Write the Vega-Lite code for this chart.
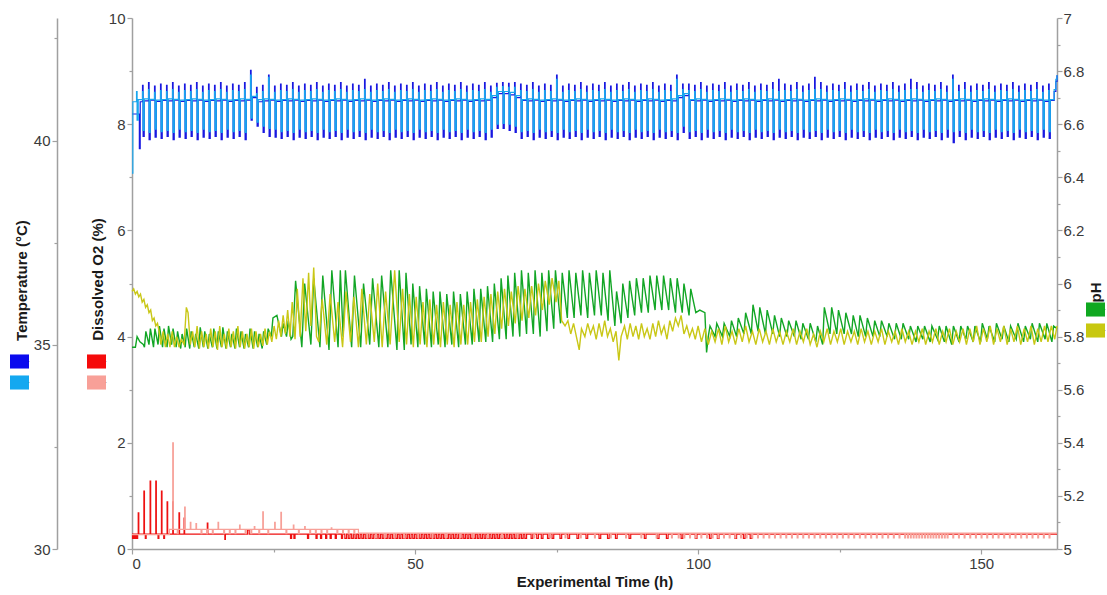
{
"$schema":"https://vega.github.io/schema/vega-lite/v6.json",
"width":925,"height":531,"autosize":"none",
"padding":{"left":132,"top":18,"right":50,"bottom":46},
"config":{"view":{"stroke":null},"font":"Liberation Sans",
"axis":{"grid":false,"domainColor":"#a0a0a0","domainWidth":1.5,"tickColor":"#a0a0a0","tickWidth":1.2,"labelColor":"#3a3a3a","labelFontSize":15,"labelFont":"Liberation Sans","titleFont":"Liberation Sans","titleFontSize":15,"titleFontWeight":"bold","titleColor":"#1a1a1a","format":"~r"},
"legend":{"orient":"none","title":null,"labelExpr":"''","labelFontSize":1,"labelOffset":0,"symbolType":"M-1,-0.74H1V0.74H-1Z","symbolSize":361,"symbolStrokeWidth":0,"padding":0,"rowPadding":4,"symbolOffset":0,"symbolOpacity":1}},
"datasets":{
"T":[
{"t":0,"a":40.65,"b":39.2},{"t":0.15,"a":40.65,"b":40.95},
{"t":0.8,"a":40.65,"b":41.2},{"t":0.9,"a":40.65,"b":40.5},{"t":1.1,"a":40.65,"b":41.0},
{"t":1.3,"a":39.8},{"t":1.45,"a":40.95},
{"t":1.86,"a":41.35,"b":41.2},{"t":1.96,"a":40.1,"b":40.25},{"t":2.16,"a":40.97,"b":41.02},
{"t":2.92,"a":41.42,"b":41.25},{"t":3.02,"a":40.02,"b":40.2},{"t":3.22,"a":40.99,"b":41.01},
{"t":3.98,"a":41.33,"b":41.18},{"t":4.08,"a":40.08,"b":40.28},{"t":4.28,"a":40.96,"b":40.99},
{"t":5.04,"a":41.38,"b":41.22},{"t":5.14,"a":40.05,"b":40.22},{"t":5.34,"a":40.98,"b":41.0},
{"t":6.1,"a":41.35,"b":41.2},{"t":6.2,"a":40.1,"b":40.25},{"t":6.4,"a":40.97,"b":41.02},
{"t":7.16,"a":41.42,"b":41.25},{"t":7.26,"a":40.02,"b":40.2},{"t":7.46,"a":40.99,"b":41.01},
{"t":8.22,"a":41.33,"b":41.18},{"t":8.32,"a":40.08,"b":40.28},{"t":8.52,"a":40.96,"b":40.99},
{"t":9.28,"a":41.38,"b":41.22},{"t":9.38,"a":40.05,"b":40.22},{"t":9.58,"a":40.98,"b":41.0},
{"t":10.34,"a":41.35,"b":41.2},{"t":10.44,"a":40.1,"b":40.25},{"t":10.64,"a":40.97,"b":41.02},
{"t":11.4,"a":41.42,"b":41.25},{"t":11.5,"a":40.02,"b":40.2},{"t":11.7,"a":40.99,"b":41.01},
{"t":12.46,"a":41.33,"b":41.18},{"t":12.56,"a":40.08,"b":40.28},{"t":12.76,"a":40.96,"b":40.99},
{"t":13.52,"a":41.38,"b":41.22},{"t":13.62,"a":40.05,"b":40.22},{"t":13.82,"a":40.98,"b":41.0},
{"t":14.58,"a":41.35,"b":41.2},{"t":14.68,"a":40.1,"b":40.25},{"t":14.88,"a":40.97,"b":41.02},
{"t":15.64,"a":41.42,"b":41.25},{"t":15.74,"a":40.02,"b":40.2},{"t":15.94,"a":40.99,"b":41.01},
{"t":16.7,"a":41.33,"b":41.18},{"t":16.8,"a":40.08,"b":40.28},{"t":17.0,"a":40.96,"b":40.99},
{"t":17.76,"a":41.38,"b":41.22},{"t":17.86,"a":40.05,"b":40.22},{"t":18.06,"a":40.98,"b":41.0},
{"t":18.82,"a":41.35,"b":41.2},{"t":18.92,"a":40.1,"b":40.25},{"t":19.12,"a":40.97,"b":41.02},
{"t":19.88,"a":41.42,"b":41.25},{"t":19.98,"a":40.02,"b":40.2},{"t":20.18,"a":40.99,"b":41.01},
{"t":20.94,"a":41.72,"b":41.6},{"t":21.04,"a":40.5,"b":40.55},{"t":21.24,"a":41.05,"b":41.08},
{"t":22.0,"a":41.3,"b":41.15},{"t":22.1,"a":40.35,"b":40.45},{"t":22.3,"a":40.95,"b":41.0},
{"t":23.06,"a":41.35,"b":41.2},{"t":23.16,"a":40.2,"b":40.35},{"t":23.36,"a":40.97,"b":41.02},
{"t":24.12,"a":41.6,"b":41.55},{"t":24.22,"a":40.1,"b":40.3},{"t":24.42,"a":40.99,"b":41.01},
{"t":25.18,"a":41.33,"b":41.18},{"t":25.28,"a":40.08,"b":40.28},{"t":25.48,"a":40.96,"b":40.99},
{"t":26.24,"a":41.38,"b":41.22},{"t":26.34,"a":40.05,"b":40.22},{"t":26.54,"a":40.98,"b":41.0},
{"t":27.3,"a":41.35,"b":41.2},{"t":27.4,"a":40.1,"b":40.25},{"t":27.6,"a":40.97,"b":41.02},
{"t":28.36,"a":41.42,"b":41.25},{"t":28.46,"a":40.02,"b":40.2},{"t":28.66,"a":40.99,"b":41.01},
{"t":29.42,"a":41.33,"b":41.18},{"t":29.52,"a":40.08,"b":40.28},{"t":29.72,"a":40.96,"b":40.99},
{"t":30.48,"a":41.38,"b":41.22},{"t":30.58,"a":40.05,"b":40.22},{"t":30.78,"a":40.98,"b":41.0},
{"t":31.54,"a":41.35,"b":41.2},{"t":31.64,"a":40.1,"b":40.25},{"t":31.84,"a":40.97,"b":41.02},
{"t":32.6,"a":41.42,"b":41.25},{"t":32.7,"a":40.02,"b":40.2},{"t":32.9,"a":40.99,"b":41.01},
{"t":33.66,"a":41.33,"b":41.18},{"t":33.76,"a":40.08,"b":40.28},{"t":33.96,"a":40.96,"b":40.99},
{"t":34.72,"a":41.38,"b":41.22},{"t":34.82,"a":40.05,"b":40.22},{"t":35.02,"a":40.98,"b":41.0},
{"t":35.78,"a":41.35,"b":41.2},{"t":35.88,"a":40.1,"b":40.25},{"t":36.08,"a":40.97,"b":41.02},
{"t":36.84,"a":41.42,"b":41.25},{"t":36.94,"a":40.02,"b":40.2},{"t":37.14,"a":40.99,"b":41.01},
{"t":37.9,"a":41.33,"b":41.18},{"t":38.0,"a":40.08,"b":40.28},{"t":38.2,"a":40.96,"b":40.99},
{"t":38.96,"a":41.38,"b":41.22},{"t":39.06,"a":40.05,"b":40.22},{"t":39.26,"a":40.98,"b":41.0},
{"t":40.02,"a":41.35,"b":41.2},{"t":40.12,"a":40.1,"b":40.25},{"t":40.32,"a":40.97,"b":41.02},
{"t":41.08,"a":41.5,"b":41.25},{"t":41.18,"a":40.02,"b":40.2},{"t":41.38,"a":40.99,"b":41.01},
{"t":42.14,"a":41.33,"b":41.18},{"t":42.24,"a":40.08,"b":40.28},{"t":42.44,"a":40.96,"b":40.99},
{"t":43.2,"a":41.38,"b":41.22},{"t":43.3,"a":40.05,"b":40.22},{"t":43.5,"a":40.98,"b":41.0},
{"t":44.26,"a":41.35,"b":41.2},{"t":44.36,"a":40.1,"b":40.25},{"t":44.56,"a":40.97,"b":41.02},
{"t":45.32,"a":41.42,"b":41.25},{"t":45.42,"a":40.02,"b":40.2},{"t":45.62,"a":40.99,"b":41.01},
{"t":46.38,"a":41.33,"b":41.18},{"t":46.48,"a":40.08,"b":40.28},{"t":46.68,"a":40.96,"b":40.99},
{"t":47.44,"a":41.38,"b":41.22},{"t":47.54,"a":40.05,"b":40.22},{"t":47.74,"a":40.98,"b":41.0},
{"t":48.5,"a":41.35,"b":41.2},{"t":48.6,"a":40.1,"b":40.25},{"t":48.8,"a":40.97,"b":41.02},
{"t":49.56,"a":41.42,"b":41.25},{"t":49.66,"a":40.02,"b":40.2},{"t":49.86,"a":40.99,"b":41.01},
{"t":50.62,"a":41.33,"b":41.18},{"t":50.72,"a":40.08,"b":40.28},{"t":50.92,"a":40.96,"b":40.99},
{"t":51.68,"a":41.38,"b":41.22},{"t":51.78,"a":40.05,"b":40.22},{"t":51.98,"a":40.98,"b":41.0},
{"t":52.74,"a":41.35,"b":41.2},{"t":52.84,"a":40.1,"b":40.25},{"t":53.04,"a":40.97,"b":41.02},
{"t":53.8,"a":41.42,"b":41.25},{"t":53.9,"a":40.02,"b":40.2},{"t":54.1,"a":40.99,"b":41.01},
{"t":54.86,"a":41.33,"b":41.18},{"t":54.96,"a":40.08,"b":40.28},{"t":55.16,"a":40.96,"b":40.99},
{"t":55.92,"a":41.38,"b":41.22},{"t":56.02,"a":40.05,"b":40.22},{"t":56.22,"a":40.98,"b":41.0},
{"t":56.98,"a":41.35,"b":41.2},{"t":57.08,"a":40.1,"b":40.25},{"t":57.28,"a":40.97,"b":41.02},
{"t":58.04,"a":41.42,"b":41.25},{"t":58.14,"a":40.02,"b":40.2},{"t":58.34,"a":40.99,"b":41.01},
{"t":59.1,"a":41.33,"b":41.18},{"t":59.2,"a":40.08,"b":40.28},{"t":59.4,"a":40.96,"b":40.99},
{"t":60.16,"a":41.38,"b":41.22},{"t":60.26,"a":40.05,"b":40.22},{"t":60.46,"a":40.98,"b":41.0},
{"t":61.22,"a":41.35,"b":41.2},{"t":61.32,"a":40.1,"b":40.25},{"t":61.52,"a":40.97,"b":41.02},
{"t":62.28,"a":41.42,"b":41.25},{"t":62.38,"a":40.02,"b":40.2},{"t":62.58,"a":40.99,"b":41.01},
{"t":63.34,"a":41.33,"b":41.18},{"t":63.44,"a":40.08,"b":40.28},{"t":63.64,"a":41.05,"b":41.1},
{"t":64.4,"a":41.4,"b":41.3},{"t":64.5,"a":40.3,"b":40.4},{"t":64.7,"a":41.15,"b":41.2},
{"t":65.46,"a":41.42,"b":41.32},{"t":65.56,"a":40.3,"b":40.42},{"t":65.76,"a":41.15,"b":41.2},
{"t":66.52,"a":41.4,"b":41.3},{"t":66.62,"a":40.25,"b":40.4},{"t":66.82,"a":41.12,"b":41.18},
{"t":67.58,"a":41.42,"b":41.3},{"t":67.68,"a":40.2,"b":40.35},{"t":67.88,"a":41.05,"b":41.1},
{"t":68.64,"a":41.38,"b":41.22},{"t":68.74,"a":40.05,"b":40.22},{"t":68.94,"a":40.98,"b":41.0},
{"t":69.7,"a":41.35,"b":41.2},{"t":69.8,"a":40.1,"b":40.25},{"t":70.0,"a":40.97,"b":41.02},
{"t":70.76,"a":41.42,"b":41.25},{"t":70.86,"a":40.02,"b":40.2},{"t":71.06,"a":40.99,"b":41.01},
{"t":71.82,"a":41.33,"b":41.18},{"t":71.92,"a":40.08,"b":40.28},{"t":72.12,"a":40.96,"b":40.99},
{"t":72.88,"a":41.38,"b":41.22},{"t":72.98,"a":40.05,"b":40.22},{"t":73.18,"a":40.98,"b":41.0},
{"t":73.94,"a":41.35,"b":41.2},{"t":74.04,"a":40.1,"b":40.25},{"t":74.24,"a":40.97,"b":41.02},
{"t":75.0,"a":41.6,"b":41.5},{"t":75.1,"a":40.02,"b":40.2},{"t":75.3,"a":40.99,"b":41.01},
{"t":76.06,"a":41.33,"b":41.18},{"t":76.16,"a":40.08,"b":40.28},{"t":76.36,"a":40.96,"b":40.99},
{"t":77.12,"a":41.38,"b":41.22},{"t":77.22,"a":40.05,"b":40.22},{"t":77.42,"a":40.98,"b":41.0},
{"t":78.18,"a":41.35,"b":41.2},{"t":78.28,"a":40.1,"b":40.25},{"t":78.48,"a":40.97,"b":41.02},
{"t":79.24,"a":41.42,"b":41.25},{"t":79.34,"a":40.02,"b":40.2},{"t":79.54,"a":40.99,"b":41.01},
{"t":80.3,"a":41.33,"b":41.18},{"t":80.4,"a":40.08,"b":40.28},{"t":80.6,"a":40.96,"b":40.99},
{"t":81.36,"a":41.38,"b":41.22},{"t":81.46,"a":40.05,"b":40.22},{"t":81.66,"a":40.98,"b":41.0},
{"t":82.42,"a":41.35,"b":41.2},{"t":82.52,"a":40.1,"b":40.25},{"t":82.72,"a":40.97,"b":41.02},
{"t":83.48,"a":41.42,"b":41.25},{"t":83.58,"a":40.02,"b":40.2},{"t":83.78,"a":40.99,"b":41.01},
{"t":84.54,"a":41.33,"b":41.18},{"t":84.64,"a":40.08,"b":40.28},{"t":84.84,"a":40.96,"b":40.99},
{"t":85.6,"a":41.38,"b":41.22},{"t":85.7,"a":40.05,"b":40.22},{"t":85.9,"a":40.98,"b":41.0},
{"t":86.66,"a":41.35,"b":41.2},{"t":86.76,"a":40.1,"b":40.25},{"t":86.96,"a":40.97,"b":41.02},
{"t":87.72,"a":41.42,"b":41.25},{"t":87.82,"a":40.02,"b":40.2},{"t":88.02,"a":40.99,"b":41.01},
{"t":88.78,"a":41.33,"b":41.18},{"t":88.88,"a":40.08,"b":40.28},{"t":89.08,"a":40.96,"b":40.99},
{"t":89.84,"a":41.38,"b":41.22},{"t":89.94,"a":40.05,"b":40.22},{"t":90.14,"a":40.98,"b":41.0},
{"t":90.9,"a":41.35,"b":41.2},{"t":91.0,"a":40.1,"b":40.25},{"t":91.2,"a":40.97,"b":41.02},
{"t":91.96,"a":41.42,"b":41.25},{"t":92.06,"a":40.02,"b":40.2},{"t":92.26,"a":40.99,"b":41.01},
{"t":93.02,"a":41.33,"b":41.18},{"t":93.12,"a":40.08,"b":40.28},{"t":93.32,"a":40.96,"b":40.99},
{"t":94.08,"a":41.38,"b":41.22},{"t":94.18,"a":40.05,"b":40.22},{"t":94.38,"a":40.98,"b":41.0},
{"t":95.14,"a":41.35,"b":41.2},{"t":95.24,"a":40.1,"b":40.25},{"t":95.44,"a":40.97,"b":41.02},
{"t":96.2,"a":41.6,"b":41.5},{"t":96.3,"a":40.02,"b":40.2},{"t":96.5,"a":41.05,"b":41.1},
{"t":97.26,"a":41.38,"b":41.25},{"t":97.36,"a":40.2,"b":40.35},{"t":97.56,"a":41.1,"b":41.15},
{"t":98.32,"a":41.38,"b":41.22},{"t":98.42,"a":40.05,"b":40.22},{"t":98.62,"a":40.98,"b":41.0},
{"t":99.38,"a":41.35,"b":41.2},{"t":99.48,"a":40.1,"b":40.25},{"t":99.68,"a":40.97,"b":41.02},
{"t":100.44,"a":41.42,"b":41.25},{"t":100.54,"a":40.02,"b":40.2},{"t":100.74,"a":40.99,"b":41.01},
{"t":101.5,"a":41.33,"b":41.18},{"t":101.6,"a":40.08,"b":40.28},{"t":101.8,"a":40.96,"b":40.99},
{"t":102.56,"a":41.38,"b":41.22},{"t":102.66,"a":40.05,"b":40.22},{"t":102.86,"a":40.98,"b":41.0},
{"t":103.62,"a":41.35,"b":41.2},{"t":103.72,"a":40.1,"b":40.25},{"t":103.92,"a":40.97,"b":41.02},
{"t":104.68,"a":41.42,"b":41.25},{"t":104.78,"a":40.02,"b":40.2},{"t":104.98,"a":40.99,"b":41.01},
{"t":105.74,"a":41.33,"b":41.18},{"t":105.84,"a":40.08,"b":40.28},{"t":106.04,"a":40.96,"b":40.99},
{"t":106.8,"a":41.38,"b":41.22},{"t":106.9,"a":40.05,"b":40.22},{"t":107.1,"a":40.98,"b":41.0},
{"t":107.86,"a":41.35,"b":41.2},{"t":107.96,"a":40.1,"b":40.25},{"t":108.16,"a":40.97,"b":41.02},
{"t":108.92,"a":41.42,"b":41.25},{"t":109.02,"a":40.02,"b":40.2},{"t":109.22,"a":40.99,"b":41.01},
{"t":109.98,"a":41.33,"b":41.18},{"t":110.08,"a":40.08,"b":40.28},{"t":110.28,"a":40.96,"b":40.99},
{"t":111.04,"a":41.38,"b":41.22},{"t":111.14,"a":40.05,"b":40.22},{"t":111.34,"a":40.98,"b":41.0},
{"t":112.1,"a":41.35,"b":41.2},{"t":112.2,"a":40.1,"b":40.25},{"t":112.4,"a":40.97,"b":41.02},
{"t":113.16,"a":41.42,"b":41.25},{"t":113.26,"a":40.02,"b":40.2},{"t":113.46,"a":40.99,"b":41.01},
{"t":114.22,"a":41.5,"b":41.2},{"t":114.32,"a":40.08,"b":40.28},{"t":114.52,"a":40.96,"b":40.99},
{"t":115.28,"a":41.38,"b":41.22},{"t":115.38,"a":40.05,"b":40.22},{"t":115.58,"a":40.98,"b":41.0},
{"t":116.34,"a":41.35,"b":41.2},{"t":116.44,"a":40.1,"b":40.25},{"t":116.64,"a":40.97,"b":41.02},
{"t":117.4,"a":41.42,"b":41.25},{"t":117.5,"a":40.02,"b":40.2},{"t":117.7,"a":40.99,"b":41.01},
{"t":118.46,"a":41.33,"b":41.18},{"t":118.56,"a":40.08,"b":40.28},{"t":118.76,"a":40.96,"b":40.99},
{"t":119.52,"a":41.38,"b":41.22},{"t":119.62,"a":40.05,"b":40.22},{"t":119.82,"a":40.98,"b":41.0},
{"t":120.58,"a":41.55,"b":41.25},{"t":120.68,"a":40.1,"b":40.25},{"t":120.88,"a":40.97,"b":41.02},
{"t":121.64,"a":41.42,"b":41.25},{"t":121.74,"a":40.02,"b":40.2},{"t":121.94,"a":40.99,"b":41.01},
{"t":122.7,"a":41.33,"b":41.18},{"t":122.8,"a":40.08,"b":40.28},{"t":123.0,"a":40.96,"b":40.99},
{"t":123.76,"a":41.38,"b":41.22},{"t":123.86,"a":40.05,"b":40.22},{"t":124.06,"a":40.98,"b":41.0},
{"t":124.82,"a":41.35,"b":41.2},{"t":124.92,"a":40.1,"b":40.25},{"t":125.12,"a":40.97,"b":41.02},
{"t":125.88,"a":41.42,"b":41.25},{"t":125.98,"a":40.02,"b":40.2},{"t":126.18,"a":40.99,"b":41.01},
{"t":126.94,"a":41.33,"b":41.18},{"t":127.04,"a":40.08,"b":40.28},{"t":127.24,"a":40.96,"b":40.99},
{"t":128.0,"a":41.38,"b":41.22},{"t":128.1,"a":40.05,"b":40.22},{"t":128.3,"a":40.98,"b":41.0},
{"t":129.06,"a":41.35,"b":41.2},{"t":129.16,"a":40.1,"b":40.25},{"t":129.36,"a":40.97,"b":41.02},
{"t":130.12,"a":41.42,"b":41.25},{"t":130.22,"a":40.02,"b":40.2},{"t":130.42,"a":40.99,"b":41.01},
{"t":131.18,"a":41.33,"b":41.18},{"t":131.28,"a":40.08,"b":40.28},{"t":131.48,"a":40.96,"b":40.99},
{"t":132.24,"a":41.38,"b":41.22},{"t":132.34,"a":40.05,"b":40.22},{"t":132.54,"a":40.98,"b":41.0},
{"t":133.3,"a":41.35,"b":41.2},{"t":133.4,"a":40.1,"b":40.25},{"t":133.6,"a":40.97,"b":41.02},
{"t":134.36,"a":41.42,"b":41.25},{"t":134.46,"a":40.02,"b":40.2},{"t":134.66,"a":40.99,"b":41.01},
{"t":135.42,"a":41.33,"b":41.18},{"t":135.52,"a":40.08,"b":40.28},{"t":135.72,"a":40.96,"b":40.99},
{"t":136.48,"a":41.38,"b":41.22},{"t":136.58,"a":40.05,"b":40.22},{"t":136.78,"a":40.98,"b":41.0},
{"t":137.54,"a":41.5,"b":41.25},{"t":137.64,"a":40.1,"b":40.25},{"t":137.84,"a":40.97,"b":41.02},
{"t":138.6,"a":41.42,"b":41.25},{"t":138.7,"a":40.02,"b":40.2},{"t":138.9,"a":40.99,"b":41.01},
{"t":139.66,"a":41.33,"b":41.18},{"t":139.76,"a":40.08,"b":40.28},{"t":139.96,"a":40.96,"b":40.99},
{"t":140.72,"a":41.38,"b":41.22},{"t":140.82,"a":40.05,"b":40.22},{"t":141.02,"a":40.98,"b":41.0},
{"t":141.78,"a":41.35,"b":41.2},{"t":141.88,"a":40.1,"b":40.25},{"t":142.08,"a":40.97,"b":41.02},
{"t":142.84,"a":41.42,"b":41.25},{"t":142.94,"a":40.02,"b":40.2},{"t":143.14,"a":40.99,"b":41.01},
{"t":143.9,"a":41.33,"b":41.18},{"t":144.0,"a":40.08,"b":40.28},{"t":144.2,"a":40.96,"b":40.99},
{"t":144.96,"a":41.6,"b":41.5},{"t":145.06,"a":39.95,"b":40.22},{"t":145.26,"a":40.98,"b":41.0},
{"t":146.02,"a":41.35,"b":41.2},{"t":146.12,"a":40.1,"b":40.25},{"t":146.32,"a":40.97,"b":41.02},
{"t":147.08,"a":41.42,"b":41.25},{"t":147.18,"a":40.02,"b":40.2},{"t":147.38,"a":40.99,"b":41.01},
{"t":148.14,"a":41.33,"b":41.18},{"t":148.24,"a":40.08,"b":40.28},{"t":148.44,"a":40.96,"b":40.99},
{"t":149.2,"a":41.38,"b":41.22},{"t":149.3,"a":40.05,"b":40.22},{"t":149.5,"a":40.98,"b":41.0},
{"t":150.26,"a":41.35,"b":41.2},{"t":150.36,"a":40.1,"b":40.25},{"t":150.56,"a":40.97,"b":41.02},
{"t":151.32,"a":41.42,"b":41.25},{"t":151.42,"a":40.02,"b":40.2},{"t":151.62,"a":40.99,"b":41.01},
{"t":152.38,"a":41.33,"b":41.18},{"t":152.48,"a":40.08,"b":40.28},{"t":152.68,"a":40.96,"b":40.99},
{"t":153.44,"a":41.38,"b":41.22},{"t":153.54,"a":40.05,"b":40.22},{"t":153.74,"a":40.98,"b":41.0},
{"t":154.5,"a":41.35,"b":41.2},{"t":154.6,"a":40.1,"b":40.25},{"t":154.8,"a":40.97,"b":41.02},
{"t":155.56,"a":41.42,"b":41.25},{"t":155.66,"a":40.02,"b":40.2},{"t":155.86,"a":40.99,"b":41.01},
{"t":156.62,"a":41.33,"b":41.18},{"t":156.72,"a":40.08,"b":40.28},{"t":156.92,"a":40.96,"b":40.99},
{"t":157.68,"a":41.38,"b":41.22},{"t":157.78,"a":40.05,"b":40.22},{"t":157.98,"a":40.98,"b":41.0},
{"t":158.74,"a":41.35,"b":41.2},{"t":158.84,"a":40.1,"b":40.25},{"t":159.04,"a":40.97,"b":41.02},
{"t":159.8,"a":41.42,"b":41.25},{"t":159.9,"a":40.02,"b":40.2},{"t":160.1,"a":40.99,"b":41.01},
{"t":160.86,"a":41.33,"b":41.18},{"t":160.96,"a":40.08,"b":40.28},{"t":161.16,"a":40.96,"b":40.99},
{"t":161.92,"a":41.38,"b":41.22},{"t":162.02,"a":40.05,"b":40.22},{"t":162.22,"a":40.98,"b":41.0},
{"t":162.9,"a":41.2,"b":41.25},{"t":163.2,"a":41.45,"b":41.5},{"t":163.4,"a":41.6,"b":41.6}
],
"P":[
{"t":0,"a":5.76},{"t":0.6,"a":5.76},{"t":0.9,"a":5.8},{"t":1.4,"a":5.78},{"t":2.0,"a":5.77},
{"t":2.2,"a":5.76},{"t":2.45,"a":5.82},{"t":3.0,"a":5.77},{"t":3.25,"a":5.83},{"t":3.8,"a":5.76},{"t":4.05,"a":5.83},{"t":4.6,"a":5.77},{"t":4.85,"a":5.84},{"t":5.4,"a":5.76},{"t":5.65,"a":5.83},{"t":6.2,"a":5.76},{"t":6.45,"a":5.84},{"t":7.0,"a":5.77},{"t":7.25,"a":5.83},{"t":7.8,"a":5.76},{"t":8.05,"a":5.82},
{"t":8.6,"a":5.755},{"t":8.85,"a":5.81},{"t":9.4,"a":5.76},{"t":9.65,"a":5.83},{"t":10.2,"a":5.755},{"t":10.45,"a":5.82},{"t":11.0,"a":5.76},{"t":11.25,"a":5.81},{"t":11.8,"a":5.755},{"t":12.05,"a":5.835},{"t":12.6,"a":5.76},{"t":12.85,"a":5.82},{"t":13.4,"a":5.755},{"t":13.65,"a":5.81},{"t":14.2,"a":5.76},{"t":14.45,"a":5.83},{"t":15.0,"a":5.755},{"t":15.25,"a":5.82},{"t":15.8,"a":5.76},{"t":16.05,"a":5.835},{"t":16.6,"a":5.755},{"t":16.85,"a":5.82},{"t":17.4,"a":5.76},{"t":17.65,"a":5.81},{"t":18.2,"a":5.755},{"t":18.45,"a":5.83},{"t":19.0,"a":5.76},{"t":19.25,"a":5.82},{"t":19.8,"a":5.755},{"t":20.05,"a":5.81},{"t":20.6,"a":5.76},{"t":20.85,"a":5.83},{"t":21.4,"a":5.755},{"t":21.65,"a":5.82},{"t":22.2,"a":5.76},{"t":22.45,"a":5.81},{"t":23.0,"a":5.755},{"t":23.25,"a":5.82},{"t":23.8,"a":5.77},{"t":24.05,"a":5.83},
{"t":24.6,"a":5.8},{"t":24.9,"a":5.87},{"t":25.6,"a":5.88},{"t":26.0,"a":5.84},{"t":26.4,"a":5.8},{"t":26.7,"a":5.85},{"t":27.3,"a":5.8},{"t":27.6,"a":5.86},{"t":28.1,"a":5.79},
{"t":28.4,"a":5.8},{"t":28.9,"a":6.01},{"t":30.0,"a":5.76},{"t":30.5,"a":6.0},{"t":31.6,"a":5.77},{"t":32.1,"a":6.02},{"t":33.2,"a":5.76},{"t":33.7,"a":6.03},{"t":34.8,"a":5.75},{"t":35.3,"a":6.05},{"t":36.4,"a":5.76},{"t":36.8,"a":6.05},{"t":37.3,"a":5.8},{"t":37.7,"a":6.05},{"t":38.8,"a":5.76},{"t":39.3,"a":6.03},{"t":40.4,"a":5.76},{"t":40.9,"a":6.0},{"t":42.0,"a":5.77},{"t":42.5,"a":6.02},{"t":43.6,"a":5.76},{"t":44.1,"a":6.03},{"t":45.2,"a":5.76},{"t":45.7,"a":6.05},{"t":46.8,"a":5.75},{"t":47.2,"a":6.05},
{"t":48.1,"a":5.75},{"t":48.4,"a":6.04},{"t":49.3,"a":5.77},{"t":49.6,"a":6.0},{"t":50.5,"a":5.76},{"t":50.8,"a":5.99},{"t":51.7,"a":5.77},{"t":52.0,"a":5.98},{"t":52.9,"a":5.76},{"t":53.2,"a":5.97},{"t":54.1,"a":5.77},{"t":54.4,"a":5.97},{"t":55.3,"a":5.76},{"t":55.6,"a":5.96},{"t":56.5,"a":5.77},{"t":56.8,"a":5.97},{"t":57.7,"a":5.76},{"t":58.0,"a":5.96},{"t":58.9,"a":5.77},{"t":59.2,"a":5.97},{"t":60.1,"a":5.77},{"t":60.4,"a":5.98},{"t":61.3,"a":5.78},{"t":61.6,"a":5.98},
{"t":62.5,"a":5.78},{"t":62.8,"a":5.99},{"t":63.7,"a":5.78},{"t":64.0,"a":6.0},{"t":64.9,"a":5.79},{"t":65.2,"a":6.02},{"t":66.1,"a":5.79},{"t":66.4,"a":6.03},{"t":67.3,"a":5.8},{"t":67.6,"a":6.04},
{"t":68.5,"a":5.8},{"t":68.8,"a":6.05},{"t":69.7,"a":5.81},{"t":70.0,"a":6.04},{"t":70.9,"a":5.81},{"t":71.2,"a":6.05},{"t":72.1,"a":5.8},{"t":72.4,"a":6.04},{"t":73.3,"a":5.82},{"t":73.6,"a":6.05},{"t":74.5,"a":5.83},{"t":74.8,"a":6.05},
{"t":75.7,"a":5.85},{"t":76.0,"a":6.04},{"t":76.9,"a":5.87},{"t":77.2,"a":6.05},{"t":78.1,"a":5.87},{"t":78.4,"a":6.04},{"t":79.3,"a":5.88},{"t":79.6,"a":6.05},{"t":80.5,"a":5.87},{"t":80.8,"a":6.04},{"t":81.7,"a":5.88},{"t":82.0,"a":6.05},{"t":82.9,"a":5.88},{"t":83.2,"a":6.04},{"t":84.1,"a":5.86},{"t":84.4,"a":6.05},
{"t":85.3,"a":5.84},{"t":85.6,"a":5.97},{"t":86.4,"a":5.85},{"t":86.7,"a":6.0},
{"t":87.6,"a":5.87},{"t":87.9,"a":6.01},{"t":88.8,"a":5.88},{"t":89.1,"a":6.02},{"t":90.0,"a":5.89},{"t":90.3,"a":6.02},{"t":91.2,"a":5.89},{"t":91.5,"a":6.03},{"t":92.4,"a":5.9},{"t":92.7,"a":6.03},{"t":93.6,"a":5.9},{"t":93.9,"a":6.03},{"t":94.8,"a":5.9},{"t":95.1,"a":6.02},{"t":96.0,"a":5.89},{"t":96.3,"a":6.02},{"t":97.2,"a":5.89},{"t":97.5,"a":6.0},{"t":98.4,"a":5.88},{"t":98.7,"a":5.98},
{"t":99.6,"a":5.89},{"t":100.3,"a":5.9},{"t":101.2,"a":5.89},{"t":101.5,"a":5.74},{"t":101.8,"a":5.8},{"t":102.1,"a":5.84},
{"t":103.0,"a":5.8},{"t":103.3,"a":5.85},{"t":104.3,"a":5.8},{"t":104.6,"a":5.85},{"t":105.6,"a":5.8},{"t":105.9,"a":5.86},{"t":106.8,"a":5.8},{"t":107.1,"a":5.87},{"t":108.1,"a":5.81},{"t":108.4,"a":5.89},{"t":109.4,"a":5.81},{"t":109.7,"a":5.92},{"t":110.6,"a":5.82},{"t":110.9,"a":5.91},{"t":111.9,"a":5.81},{"t":112.2,"a":5.9},{"t":113.2,"a":5.81},{"t":113.5,"a":5.88},{"t":114.4,"a":5.8},{"t":114.7,"a":5.87},{"t":115.7,"a":5.8},{"t":116.0,"a":5.86},{"t":117.0,"a":5.8},{"t":117.3,"a":5.86},{"t":118.2,"a":5.79},{"t":118.5,"a":5.85},{"t":119.5,"a":5.79},{"t":119.8,"a":5.85},{"t":120.8,"a":5.78},{"t":121.1,"a":5.84},{"t":122.0,"a":5.77},{"t":122.3,"a":5.91},{"t":123.3,"a":5.81},{"t":123.6,"a":5.91},{"t":124.5,"a":5.81},{"t":124.8,"a":5.9},{"t":125.8,"a":5.81},{"t":126.1,"a":5.89},{"t":127.1,"a":5.81},{"t":127.4,"a":5.88},{"t":128.3,"a":5.8},{"t":128.6,"a":5.88},{"t":129.6,"a":5.8},{"t":129.9,"a":5.87},{"t":130.9,"a":5.8},{"t":131.2,"a":5.86},{"t":132.1,"a":5.8},{"t":132.4,"a":5.86},{"t":133.4,"a":5.8},{"t":133.7,"a":5.85},{"t":134.7,"a":5.79},{"t":135.0,"a":5.85},{"t":135.9,"a":5.79},{"t":136.2,"a":5.85},{"t":137.2,"a":5.79},{"t":137.5,"a":5.84},{"t":138.5,"a":5.78},{"t":138.8,"a":5.84},{"t":139.7,"a":5.79},{"t":140.0,"a":5.84},{"t":141.0,"a":5.78},{"t":141.3,"a":5.84},{"t":142.3,"a":5.79},{"t":142.6,"a":5.84},{"t":143.5,"a":5.78},{"t":143.8,"a":5.84},{"t":144.8,"a":5.77},{"t":145.1,"a":5.84},{"t":146.1,"a":5.78},{"t":146.4,"a":5.84},{"t":147.3,"a":5.79},{"t":147.6,"a":5.84},{"t":148.6,"a":5.78},{"t":148.9,"a":5.84},{"t":149.9,"a":5.78},{"t":150.2,"a":5.85},{"t":151.1,"a":5.79},{"t":151.4,"a":5.84},{"t":152.4,"a":5.78},{"t":152.7,"a":5.85},{"t":153.7,"a":5.79},{"t":154.0,"a":5.84},{"t":154.9,"a":5.78},{"t":155.2,"a":5.84},{"t":156.2,"a":5.79},{"t":156.5,"a":5.85},{"t":157.5,"a":5.78},{"t":157.8,"a":5.84},{"t":158.7,"a":5.79},{"t":159.0,"a":5.85},{"t":160.0,"a":5.78},{"t":160.3,"a":5.85},{"t":161.3,"a":5.79},{"t":161.6,"a":5.85},{"t":162.5,"a":5.78},{"t":162.8,"a":5.84},{"t":163.4,"a":5.83},
{"t":0,"b":5.97},{"t":0.3,"b":5.98},{"t":0.6,"b":5.96},{"t":0.9,"b":5.97},{"t":1.2,"b":5.95},{"t":1.5,"b":5.96},{"t":1.8,"b":5.93},{"t":2.1,"b":5.94},{"t":2.4,"b":5.91},{"t":2.7,"b":5.92},{"t":3.0,"b":5.89},{"t":3.3,"b":5.9},{"t":3.6,"b":5.86},{"t":3.9,"b":5.87},{"t":4.2,"b":5.84},{"t":4.5,"b":5.85},{"t":4.8,"b":5.82},
{"t":5.1,"b":5.77},{"t":5.5,"b":5.82},{"t":5.9,"b":5.76},{"t":6.3,"b":5.81},{"t":6.7,"b":5.76},{"t":7.1,"b":5.82},{"t":7.5,"b":5.76},{"t":7.9,"b":5.8},{"t":8.3,"b":5.76},{"t":8.7,"b":5.79},{"t":9.2,"b":5.77},{"t":9.6,"b":5.91},{"t":9.9,"b":5.89},{"t":10.3,"b":5.77},
{"t":10.7,"b":5.82},{"t":11.1,"b":5.76},{"t":11.5,"b":5.84},{"t":11.9,"b":5.755},{"t":12.3,"b":5.82},{"t":12.7,"b":5.76},{"t":13.1,"b":5.81},{"t":13.5,"b":5.755},{"t":13.9,"b":5.83},{"t":14.3,"b":5.76},{"t":14.7,"b":5.82},{"t":15.1,"b":5.75},{"t":15.5,"b":5.84},{"t":15.9,"b":5.76},{"t":16.3,"b":5.81},{"t":16.7,"b":5.755},{"t":17.1,"b":5.83},{"t":17.5,"b":5.76},{"t":17.9,"b":5.82},{"t":18.3,"b":5.755},{"t":18.7,"b":5.84},{"t":19.1,"b":5.76},{"t":19.5,"b":5.82},{"t":19.9,"b":5.755},{"t":20.3,"b":5.81},{"t":20.7,"b":5.76},{"t":21.1,"b":5.83},{"t":21.5,"b":5.755},{"t":21.9,"b":5.82},{"t":22.3,"b":5.76},{"t":22.7,"b":5.81},{"t":23.1,"b":5.765},{"t":23.5,"b":5.83},{"t":23.9,"b":5.77},{"t":24.3,"b":5.82},{"t":24.7,"b":5.78},{"t":25.1,"b":5.84},{"t":25.5,"b":5.79},{"t":25.9,"b":5.86},{"t":26.3,"b":5.8},{"t":26.7,"b":5.88},{"t":27.1,"b":5.81},{"t":27.5,"b":5.9},{"t":27.9,"b":5.8},{"t":28.3,"b":5.93},{"t":28.8,"b":5.79},
{"t":29.2,"b":5.98},{"t":29.7,"b":5.8},{"t":30.2,"b":6.02},{"t":30.7,"b":5.82},{"t":31.2,"b":6.04},{"t":31.6,"b":5.84},{"t":32.1,"b":6.06},{"t":32.6,"b":5.8},{"t":33.0,"b":5.78},
{"t":33.6,"b":5.94},{"t":34.4,"b":5.77},{"t":35.0,"b":5.96},{"t":35.8,"b":5.78},{"t":36.4,"b":5.93},{"t":37.2,"b":5.76},{"t":37.8,"b":5.97},{"t":38.6,"b":5.78},{"t":39.2,"b":5.95},{"t":40.0,"b":5.76},{"t":40.6,"b":5.98},{"t":41.4,"b":5.77},{"t":42.0,"b":5.96},{"t":42.8,"b":5.78},{"t":43.4,"b":6.0},{"t":44.2,"b":5.76},{"t":44.8,"b":5.97},{"t":45.6,"b":5.77},{"t":46.4,"b":6.05},{"t":47.2,"b":5.78},
{"t":47.8,"b":5.98},{"t":48.5,"b":5.77},{"t":49.0,"b":5.96},{"t":49.7,"b":5.76},{"t":50.2,"b":5.95},{"t":50.9,"b":5.77},{"t":51.4,"b":5.93},{"t":52.1,"b":5.76},{"t":52.6,"b":5.94},{"t":53.3,"b":5.77},{"t":53.8,"b":5.92},{"t":54.5,"b":5.76},{"t":55.0,"b":5.93},{"t":55.7,"b":5.77},{"t":56.2,"b":5.92},{"t":56.9,"b":5.76},{"t":57.4,"b":5.93},{"t":58.1,"b":5.77},{"t":58.6,"b":5.92},{"t":59.3,"b":5.77},{"t":59.8,"b":5.93},{"t":60.5,"b":5.78},{"t":61.0,"b":5.94},{"t":61.7,"b":5.78},
{"t":62.2,"b":5.95},{"t":62.9,"b":5.8},{"t":63.4,"b":5.96},{"t":64.1,"b":5.81},{"t":64.6,"b":5.97},{"t":65.3,"b":5.83},{"t":65.8,"b":5.98},{"t":66.5,"b":5.84},{"t":67.0,"b":5.97},{"t":67.7,"b":5.85},{"t":68.2,"b":5.99},{"t":68.9,"b":5.86},{"t":69.4,"b":5.98},{"t":70.1,"b":5.87},{"t":70.6,"b":5.99},{"t":71.3,"b":5.88},{"t":71.8,"b":6.0},{"t":72.5,"b":5.9},{"t":73.0,"b":6.01},{"t":73.7,"b":5.92},{"t":74.2,"b":6.02},{"t":74.9,"b":5.93},{"t":75.4,"b":6.01},{"t":75.9,"b":5.86},
{"t":76.5,"b":5.84},{"t":77.0,"b":5.86},{"t":77.5,"b":5.81},{"t":78.0,"b":5.85},{"t":78.5,"b":5.8},{"t":79.0,"b":5.75},{"t":79.4,"b":5.83},{"t":80.0,"b":5.8},{"t":80.5,"b":5.85},{"t":81.0,"b":5.81},{"t":81.5,"b":5.84},{"t":82.0,"b":5.79},{"t":82.5,"b":5.85},{"t":83.0,"b":5.8},{"t":83.5,"b":5.86},{"t":84.0,"b":5.8},{"t":84.5,"b":5.83},{"t":85.0,"b":5.78},{"t":85.5,"b":5.82},{"t":86.0,"b":5.71},{"t":86.4,"b":5.8},{"t":87.0,"b":5.84},{"t":87.5,"b":5.79},{"t":88.0,"b":5.85},{"t":88.5,"b":5.8},{"t":89.0,"b":5.84},{"t":89.5,"b":5.79},{"t":90.0,"b":5.85},{"t":90.5,"b":5.8},{"t":91.0,"b":5.83},{"t":91.5,"b":5.79},{"t":92.0,"b":5.85},{"t":92.5,"b":5.8},{"t":93.0,"b":5.86},{"t":93.5,"b":5.81},{"t":94.0,"b":5.84},{"t":94.5,"b":5.79},{"t":95.0,"b":5.86},{"t":95.5,"b":5.82},{"t":96.0,"b":5.87},{"t":96.5,"b":5.84},{"t":97.0,"b":5.88},{"t":97.5,"b":5.81},{"t":98.0,"b":5.84},{"t":98.5,"b":5.8},{"t":99.0,"b":5.83},{"t":99.5,"b":5.79},{"t":100.0,"b":5.84},
{"t":100.6,"b":5.78},{"t":101.2,"b":5.83},{"t":101.8,"b":5.77},{"t":102.4,"b":5.82},{"t":103.0,"b":5.78},{"t":103.6,"b":5.83},{"t":104.2,"b":5.77},{"t":104.8,"b":5.84},{"t":105.4,"b":5.78},{"t":106.0,"b":5.82},{"t":106.6,"b":5.77},{"t":107.2,"b":5.83},{"t":107.8,"b":5.78},{"t":108.4,"b":5.84},{"t":109.0,"b":5.78},{"t":109.6,"b":5.82},{"t":110.2,"b":5.77},{"t":110.8,"b":5.83},{"t":111.4,"b":5.78},{"t":112.0,"b":5.82},{"t":112.6,"b":5.77},{"t":113.2,"b":5.83},{"t":113.8,"b":5.78},{"t":114.4,"b":5.82},{"t":115.0,"b":5.77},{"t":115.6,"b":5.82},{"t":116.2,"b":5.78},{"t":116.8,"b":5.83},{"t":117.4,"b":5.77},{"t":118.0,"b":5.82},{"t":118.6,"b":5.78},{"t":119.2,"b":5.83},{"t":119.8,"b":5.77},{"t":120.4,"b":5.81},{"t":121.0,"b":5.76},{"t":121.6,"b":5.82},{"t":122.2,"b":5.78},{"t":122.8,"b":5.83},{"t":123.4,"b":5.77},{"t":124.0,"b":5.82},{"t":124.6,"b":5.78},{"t":125.2,"b":5.83},{"t":125.8,"b":5.77},{"t":126.4,"b":5.82},{"t":127.0,"b":5.78},{"t":127.6,"b":5.82},{"t":128.2,"b":5.77},{"t":128.8,"b":5.83},{"t":129.4,"b":5.78},{"t":130.0,"b":5.82},{"t":130.6,"b":5.77},{"t":131.2,"b":5.82},{"t":131.8,"b":5.78},{"t":132.4,"b":5.83},{"t":133.0,"b":5.77},{"t":133.6,"b":5.82},{"t":134.2,"b":5.78},{"t":134.8,"b":5.82},{"t":135.4,"b":5.77},{"t":136.0,"b":5.83},{"t":136.6,"b":5.78},{"t":137.2,"b":5.82},{"t":137.8,"b":5.77},{"t":138.4,"b":5.82},{"t":139.0,"b":5.78},{"t":139.6,"b":5.83},{"t":140.2,"b":5.77},{"t":140.8,"b":5.82},{"t":141.4,"b":5.78},{"t":142.0,"b":5.83},{"t":142.6,"b":5.77},{"t":143.2,"b":5.82},{"t":143.8,"b":5.78},{"t":144.4,"b":5.83},{"t":145.0,"b":5.77},{"t":145.6,"b":5.82},{"t":146.2,"b":5.78},{"t":146.8,"b":5.83},{"t":147.4,"b":5.77},{"t":148.0,"b":5.83},{"t":148.6,"b":5.78},{"t":149.2,"b":5.84},{"t":149.8,"b":5.77},{"t":150.4,"b":5.83},{"t":151.0,"b":5.78},{"t":151.6,"b":5.84},{"t":152.2,"b":5.77},{"t":152.8,"b":5.83},{"t":153.4,"b":5.78},{"t":154.0,"b":5.84},{"t":154.6,"b":5.77},{"t":155.2,"b":5.83},{"t":155.8,"b":5.78},{"t":156.4,"b":5.84},{"t":157.0,"b":5.77},{"t":157.6,"b":5.83},{"t":158.2,"b":5.78},{"t":158.8,"b":5.84},{"t":159.4,"b":5.77},{"t":160.0,"b":5.83},{"t":160.6,"b":5.78},{"t":161.2,"b":5.84},{"t":161.8,"b":5.78},{"t":162.4,"b":5.84},{"t":163.0,"b":5.79},{"t":163.4,"b":5.84}
],
"D":[
{"t":0,"a":0.28},{"t":0.1,"a":0.2},{"t":0.3,"a":0.28},{"t":0.5,"a":0.2},{"t":0.7,"a":0.28},{"t":0.85,"a":0.2},{"t":1.0,"a":0.28},{"t":1.1,"a":0.68},{"t":1.2,"a":0.28},{"t":2.1,"a":1.09},{"t":2.2,"a":0.28},{"t":2.35,"a":0.2},{"t":2.5,"a":0.28},{"t":3.2,"a":1.28},{"t":3.3,"a":0.28},{"t":4.2,"a":1.28},{"t":4.3,"a":0.28},{"t":4.6,"a":0.2},{"t":4.75,"a":0.28},{"t":5.2,"a":1.09},{"t":5.3,"a":0.28},{"t":5.6,"a":0.2},{"t":5.75,"a":0.28},{"t":6.2,"a":0.89},{"t":6.3,"a":0.28},{"t":7.2,"a":0.89},{"t":7.3,"a":0.28},{"t":8.3,"a":0.68},{"t":8.4,"a":0.28},{"t":9.2,"a":0.58},{"t":9.3,"a":0.28},{"t":13.3,"a":0.49},{"t":13.4,"a":0.28},{"t":16.4,"a":0.18},{"t":16.5,"a":0.28},{"t":20.4,"a":0.36},{"t":20.7,"a":0.28},
{"t":28.0,"a":0.2},{"t":28.2,"a":0.28},{"t":28.6,"a":0.2},{"t":28.8,"a":0.28},{"t":31.0,"a":0.2},{"t":31.2,"a":0.28},{"t":32.5,"a":0.2},{"t":32.7,"a":0.28},{"t":33.3,"a":0.2},{"t":33.5,"a":0.28},{"t":34.2,"a":0.2},{"t":34.4,"a":0.28},{"t":35.0,"a":0.2},{"t":35.2,"a":0.28},{"t":35.9,"a":0.2},{"t":36.1,"a":0.28},{"t":37.0,"a":0.2},{"t":37.2,"a":0.28},
{"t":37.6,"a":0.2},{"t":37.9,"a":0.28},{"t":38.2,"a":0.2},{"t":38.5,"a":0.28},{"t":38.8,"a":0.2},{"t":39.1,"a":0.28},{"t":39.4,"a":0.2},{"t":39.7,"a":0.28},{"t":40.0,"a":0.2},{"t":40.3,"a":0.28},{"t":40.6,"a":0.2},{"t":40.9,"a":0.28},{"t":41.2,"a":0.2},{"t":41.5,"a":0.28},{"t":41.8,"a":0.2},{"t":42.1,"a":0.28},{"t":42.4,"a":0.2},{"t":42.7,"a":0.28},{"t":43.0,"a":0.2},{"t":43.3,"a":0.28},{"t":43.6,"a":0.2},{"t":43.9,"a":0.28},{"t":44.2,"a":0.2},{"t":44.5,"a":0.28},{"t":44.8,"a":0.2},{"t":45.1,"a":0.28},{"t":45.4,"a":0.2},{"t":45.7,"a":0.28},{"t":46.0,"a":0.2},{"t":46.3,"a":0.28},{"t":46.6,"a":0.2},{"t":46.9,"a":0.28},{"t":47.2,"a":0.2},{"t":47.5,"a":0.28},{"t":47.8,"a":0.2},{"t":48.1,"a":0.28},{"t":48.4,"a":0.2},{"t":48.7,"a":0.28},{"t":49.0,"a":0.2},{"t":49.3,"a":0.28},{"t":49.6,"a":0.2},{"t":49.9,"a":0.28},{"t":50.2,"a":0.2},{"t":50.5,"a":0.28},{"t":50.8,"a":0.2},{"t":51.1,"a":0.28},{"t":51.4,"a":0.2},{"t":51.7,"a":0.28},{"t":52.0,"a":0.2},{"t":52.3,"a":0.28},{"t":52.6,"a":0.2},{"t":52.9,"a":0.28},{"t":53.2,"a":0.2},{"t":53.5,"a":0.28},{"t":53.8,"a":0.2},{"t":54.1,"a":0.28},{"t":54.4,"a":0.2},{"t":54.7,"a":0.28},{"t":55.0,"a":0.2},{"t":55.3,"a":0.28},{"t":55.6,"a":0.2},{"t":55.9,"a":0.28},{"t":56.2,"a":0.2},{"t":56.5,"a":0.28},{"t":56.8,"a":0.2},{"t":57.1,"a":0.28},{"t":57.4,"a":0.2},{"t":57.7,"a":0.28},{"t":58.0,"a":0.2},{"t":58.3,"a":0.28},{"t":58.6,"a":0.2},{"t":58.9,"a":0.28},{"t":59.2,"a":0.2},{"t":59.5,"a":0.28},{"t":59.8,"a":0.2},{"t":60.1,"a":0.28},{"t":60.4,"a":0.2},{"t":60.7,"a":0.28},{"t":61.0,"a":0.2},{"t":61.3,"a":0.28},{"t":61.6,"a":0.2},{"t":61.9,"a":0.28},{"t":62.2,"a":0.2},{"t":62.5,"a":0.28},{"t":62.8,"a":0.2},{"t":63.1,"a":0.28},{"t":63.4,"a":0.2},{"t":63.7,"a":0.28},{"t":64.0,"a":0.2},{"t":64.3,"a":0.28},{"t":64.6,"a":0.2},{"t":64.9,"a":0.28},{"t":65.2,"a":0.2},{"t":65.5,"a":0.28},{"t":65.8,"a":0.2},{"t":66.1,"a":0.28},{"t":66.4,"a":0.2},{"t":66.7,"a":0.28},{"t":67.0,"a":0.2},{"t":67.3,"a":0.28},{"t":67.6,"a":0.2},{"t":67.9,"a":0.28},{"t":68.2,"a":0.2},{"t":68.5,"a":0.28},{"t":68.8,"a":0.2},{"t":69.1,"a":0.28},{"t":69.4,"a":0.2},{"t":69.7,"a":0.28},
{"t":70.5,"a":0.2},{"t":70.8,"a":0.28},{"t":71.5,"a":0.2},{"t":71.8,"a":0.28},{"t":72.3,"a":0.2},{"t":72.6,"a":0.28},{"t":73.4,"a":0.2},{"t":73.7,"a":0.28},{"t":74.2,"a":0.2},{"t":74.5,"a":0.28},{"t":75.6,"a":0.2},{"t":75.9,"a":0.28},{"t":77.0,"a":0.2},{"t":77.3,"a":0.28},{"t":78.6,"a":0.2},{"t":78.9,"a":0.28},{"t":80.2,"a":0.2},{"t":80.5,"a":0.28},{"t":82.5,"a":0.2},{"t":82.8,"a":0.28},{"t":84.0,"a":0.2},{"t":84.3,"a":0.28},{"t":85.4,"a":0.2},{"t":85.7,"a":0.28},{"t":87.8,"a":0.2},{"t":88.1,"a":0.28},{"t":90.5,"a":0.2},{"t":90.8,"a":0.28},{"t":92.8,"a":0.2},{"t":93.1,"a":0.28},{"t":94.4,"a":0.2},{"t":94.7,"a":0.28},{"t":97.0,"a":0.2},{"t":97.3,"a":0.28},{"t":99.5,"a":0.2},{"t":99.8,"a":0.28},{"t":102.0,"a":0.2},{"t":102.3,"a":0.28},{"t":103.4,"a":0.2},{"t":103.7,"a":0.28},{"t":106.5,"a":0.2},{"t":106.8,"a":0.28},{"t":108.0,"a":0.2},{"t":108.3,"a":0.28},{"t":109.2,"a":0.2},{"t":109.5,"a":0.28},{"t":163.4,"a":0.28},
{"t":0,"b":0.27},{"t":6.6,"b":0.37},{"t":7.2,"b":2.0},{"t":7.3,"b":0.37},{"t":8.0,"b":0.29},{"t":8.15,"b":0.37},{"t":9.3,"b":0.79},{"t":9.4,"b":0.37},{"t":10.3,"b":0.5},{"t":10.4,"b":0.37},{"t":11.3,"b":0.48},{"t":11.4,"b":0.37},{"t":12.2,"b":0.29},{"t":12.35,"b":0.37},{"t":13.2,"b":0.29},{"t":13.35,"b":0.37},{"t":14.2,"b":0.29},{"t":14.35,"b":0.37},{"t":15.2,"b":0.5},{"t":15.3,"b":0.37},{"t":16.2,"b":0.29},{"t":16.35,"b":0.37},{"t":17.2,"b":0.29},{"t":17.35,"b":0.37},{"t":18.2,"b":0.29},{"t":18.35,"b":0.37},{"t":19.0,"b":0.45},{"t":19.1,"b":0.37},{"t":20.0,"b":0.29},{"t":20.15,"b":0.37},{"t":21.0,"b":0.29},{"t":21.15,"b":0.37},{"t":21.6,"b":0.42},{"t":21.7,"b":0.37},{"t":22.4,"b":0.29},{"t":22.55,"b":0.37},{"t":23.1,"b":0.7},{"t":23.2,"b":0.37},{"t":24.0,"b":0.29},{"t":24.15,"b":0.37},{"t":25.2,"b":0.5},{"t":25.3,"b":0.37},{"t":26.3,"b":0.69},{"t":26.4,"b":0.37},{"t":27.2,"b":0.29},{"t":27.35,"b":0.37},{"t":28.5,"b":0.45},{"t":28.6,"b":0.37},{"t":29.4,"b":0.29},{"t":29.55,"b":0.37},{"t":30.5,"b":0.42},{"t":30.6,"b":0.37},{"t":31.4,"b":0.29},{"t":31.55,"b":0.37},{"t":32.4,"b":0.29},{"t":32.55,"b":0.37},{"t":33.4,"b":0.29},{"t":33.55,"b":0.37},{"t":34.4,"b":0.29},{"t":34.55,"b":0.37},{"t":35.2,"b":0.4},{"t":35.3,"b":0.37},{"t":36.2,"b":0.29},{"t":36.35,"b":0.37},{"t":37.2,"b":0.29},{"t":37.35,"b":0.37},{"t":38.2,"b":0.29},{"t":38.35,"b":0.37},{"t":39.2,"b":0.29},{"t":39.35,"b":0.37},
{"t":40.0,"b":0.3},{"t":41.5,"b":0.21},{"t":41.65,"b":0.3},{"t":43.0,"b":0.21},{"t":43.15,"b":0.3},{"t":44.6,"b":0.21},{"t":44.75,"b":0.3},{"t":46.3,"b":0.21},{"t":46.45,"b":0.3},{"t":48.0,"b":0.21},{"t":48.15,"b":0.3},{"t":50.5,"b":0.21},{"t":50.65,"b":0.3},{"t":53.0,"b":0.21},{"t":53.15,"b":0.3},{"t":55.4,"b":0.21},{"t":55.55,"b":0.3},{"t":57.9,"b":0.21},{"t":58.05,"b":0.3},{"t":60.2,"b":0.21},{"t":60.35,"b":0.3},{"t":62.8,"b":0.21},{"t":62.95,"b":0.3},{"t":65.3,"b":0.21},{"t":65.45,"b":0.3},{"t":68.0,"b":0.21},{"t":68.15,"b":0.3},{"t":71.0,"b":0.21},{"t":71.15,"b":0.3},{"t":73.8,"b":0.21},{"t":73.95,"b":0.3},{"t":76.5,"b":0.21},{"t":76.65,"b":0.3},{"t":79.2,"b":0.21},{"t":79.35,"b":0.3},{"t":81.7,"b":0.21},{"t":81.85,"b":0.3},{"t":84.5,"b":0.21},{"t":84.65,"b":0.3},{"t":87.2,"b":0.21},{"t":87.35,"b":0.3},{"t":89.9,"b":0.21},{"t":90.05,"b":0.3},{"t":92.6,"b":0.21},{"t":92.75,"b":0.3},{"t":95.3,"b":0.21},{"t":95.45,"b":0.3},
{"t":96.5,"b":0.21},{"t":96.65,"b":0.3},{"t":97.5,"b":0.21},{"t":97.65,"b":0.3},{"t":98.5,"b":0.21},{"t":98.65,"b":0.3},{"t":99.5,"b":0.21},{"t":99.65,"b":0.3},{"t":100.5,"b":0.21},{"t":100.65,"b":0.3},{"t":101.5,"b":0.21},{"t":101.65,"b":0.3},{"t":102.5,"b":0.21},{"t":102.65,"b":0.3},{"t":103.5,"b":0.21},{"t":103.65,"b":0.3},{"t":104.5,"b":0.21},{"t":104.65,"b":0.3},{"t":105.5,"b":0.21},{"t":105.65,"b":0.3},{"t":106.5,"b":0.21},{"t":106.65,"b":0.3},{"t":107.5,"b":0.21},{"t":107.65,"b":0.3},{"t":108.5,"b":0.21},{"t":108.65,"b":0.3},{"t":109.5,"b":0.21},{"t":109.65,"b":0.3},{"t":110.5,"b":0.21},{"t":110.65,"b":0.3},{"t":111.5,"b":0.21},{"t":111.65,"b":0.3},{"t":112.5,"b":0.21},{"t":112.65,"b":0.3},{"t":113.5,"b":0.21},{"t":113.65,"b":0.3},{"t":114.5,"b":0.21},{"t":114.65,"b":0.3},{"t":115.5,"b":0.21},{"t":115.65,"b":0.3},{"t":116.5,"b":0.21},{"t":116.65,"b":0.3},{"t":117.5,"b":0.21},{"t":117.65,"b":0.3},{"t":118.5,"b":0.21},{"t":118.65,"b":0.3},{"t":119.5,"b":0.21},{"t":119.65,"b":0.3},{"t":120.5,"b":0.21},{"t":120.65,"b":0.3},{"t":121.5,"b":0.21},{"t":121.65,"b":0.3},{"t":122.5,"b":0.21},{"t":122.65,"b":0.3},{"t":123.5,"b":0.21},{"t":123.65,"b":0.3},{"t":124.5,"b":0.21},{"t":124.65,"b":0.3},{"t":125.5,"b":0.21},{"t":125.65,"b":0.3},{"t":126.5,"b":0.21},{"t":126.65,"b":0.3},{"t":127.5,"b":0.21},{"t":127.65,"b":0.3},{"t":128.5,"b":0.21},{"t":128.65,"b":0.3},{"t":129.5,"b":0.21},{"t":129.65,"b":0.3},{"t":130.5,"b":0.21},{"t":130.65,"b":0.3},{"t":131.5,"b":0.21},{"t":131.65,"b":0.3},{"t":132.5,"b":0.21},{"t":132.65,"b":0.3},{"t":133.5,"b":0.21},{"t":133.65,"b":0.3},{"t":134.5,"b":0.21},{"t":134.65,"b":0.3},{"t":135.5,"b":0.21},{"t":135.65,"b":0.3},{"t":136.5,"b":0.21},{"t":136.65,"b":0.3},
{"t":137.0,"b":0.21},{"t":137.15,"b":0.3},{"t":137.5,"b":0.21},{"t":137.65,"b":0.3},{"t":138.0,"b":0.21},{"t":138.15,"b":0.3},{"t":138.5,"b":0.21},{"t":138.65,"b":0.3},{"t":139.0,"b":0.21},{"t":139.15,"b":0.3},{"t":139.5,"b":0.21},{"t":139.65,"b":0.3},{"t":140.0,"b":0.21},{"t":140.15,"b":0.3},{"t":140.5,"b":0.21},{"t":140.65,"b":0.3},{"t":141.0,"b":0.21},{"t":141.15,"b":0.3},{"t":141.5,"b":0.21},{"t":141.65,"b":0.3},{"t":142.0,"b":0.21},{"t":142.15,"b":0.3},{"t":142.5,"b":0.21},{"t":142.65,"b":0.3},{"t":143.0,"b":0.21},{"t":143.15,"b":0.3},{"t":143.5,"b":0.21},{"t":143.65,"b":0.3},{"t":144.0,"b":0.21},{"t":144.15,"b":0.3},
{"t":145.0,"b":0.21},{"t":145.15,"b":0.3},{"t":146.0,"b":0.21},{"t":146.15,"b":0.3},{"t":147.0,"b":0.21},{"t":147.15,"b":0.3},{"t":148.0,"b":0.21},{"t":148.15,"b":0.3},{"t":149.0,"b":0.21},{"t":149.15,"b":0.3},{"t":150.0,"b":0.21},{"t":150.15,"b":0.3},{"t":151.0,"b":0.21},{"t":151.15,"b":0.3},{"t":152.0,"b":0.21},{"t":152.15,"b":0.3},{"t":153.0,"b":0.21},{"t":153.15,"b":0.3},{"t":154.0,"b":0.21},{"t":154.15,"b":0.3},{"t":155.0,"b":0.21},{"t":155.15,"b":0.3},{"t":156.0,"b":0.21},{"t":156.15,"b":0.3},{"t":157.0,"b":0.21},{"t":157.15,"b":0.3},{"t":158.0,"b":0.21},{"t":158.15,"b":0.3},{"t":159.0,"b":0.21},{"t":159.15,"b":0.3},{"t":160.0,"b":0.21},{"t":160.15,"b":0.3},{"t":161.0,"b":0.21},{"t":161.15,"b":0.3},{"t":162.0,"b":0.21},{"t":162.15,"b":0.3},{"t":163.4,"b":0.3}
]},
"encoding":{"x":{"field":"t","type":"quantitative","scale":{"domain":[0,163.4],"nice":false,"zero":false},
"axis":{"values":[0,25,50,75,100,125,150],"labelExpr":"datum.value % 50 == 0 ? datum.label : ''","tickSize":{"condition":{"test":"datum.value % 50 != 0","value":3},"value":5},"labelPadding":2,"titlePadding":3,"title":"Experimental Time (h)"}}},
"layer":[
{"data":{"name":"T"},"transform":[{"fold":["a","b"],"as":["s","v"]},{"filter":"isValid(datum.v)"}],
"mark":{"type":"line","interpolate":"step-after","strokeWidth":1.2},
"encoding":{"y":{"field":"v","type":"quantitative","scale":{"domain":[30,43],"nice":false,"zero":false},
"axis":{"orient":"left","offset":75,"title":"Temperature (°C)","values":[30,32.5,35,37.5,40,42.5],"labelExpr":"datum.value % 5 == 0 ? datum.label : ''","tickSize":{"condition":{"test":"datum.value % 5 != 0","value":3},"value":5},"labelPadding":2,"titleX":-36,"titleY":262,"titleAngle":270,"titleAlign":"center","titleBaseline":"middle"}},
"color":{"field":"s","type":"nominal","scale":{"domain":["a","b"],"range":["#1818e0","#18a6ee"]},"legend":{"legendX":-122,"legendY":334,"encode":{"symbols":{"update":{"fill":{"signal":"datum.value == 'a' ? '#0a0aee' : '#14a8f0'"},"stroke":{"value":"transparent"}}}}}}}},
{"data":{"name":"D"},"transform":[{"fold":["a","b"],"as":["s","v"]},{"filter":"isValid(datum.v)"}],
"mark":{"type":"line","interpolate":"step-after","strokeWidth":1.2},
"encoding":{"y":{"field":"v","type":"quantitative","scale":{"domain":[0,10],"nice":false,"zero":false},
"axis":{"orient":"left","offset":0,"title":"Dissolved O2 (%)","values":[0,1,2,3,4,5,6,7,8,9,10],"labelExpr":"datum.value % 2 == 0 ? datum.label : ''","tickSize":{"condition":{"test":"datum.value % 2 != 0","value":3},"value":5},"labelPadding":2,"titleX":-35,"titleY":261,"titleAngle":270,"titleAlign":"center","titleBaseline":"middle"}},
"color":{"field":"s","type":"nominal","scale":{"domain":["a","b"],"range":["#ee1111","#f7a098"]},"legend":{"legendX":-45,"legendY":334,"encode":{"symbols":{"update":{"fill":{"signal":"datum.value == 'a' ? '#f50a0a' : '#f8a098'"},"stroke":{"value":"transparent"}}}}}}}},
{"data":{"name":"P"},"transform":[{"fold":["a","b"],"as":["s","v"]},{"filter":"isValid(datum.v)"}],
"mark":{"type":"line","strokeWidth":1.4},
"encoding":{"y":{"field":"v","type":"quantitative","scale":{"domain":[5,7],"nice":false,"zero":false},
"axis":{"orient":"right","title":"pH","values":[5,5.1,5.2,5.3,5.4,5.5,5.6,5.7,5.8,5.9,6,6.1,6.2,6.3,6.4,6.5,6.6,6.7,6.8,6.9,7],"labelExpr":"round(datum.value*10) % 2 == 0 ? datum.label : ''","tickSize":{"condition":{"test":"round(datum.value*10) % 2 != 0","value":3},"value":5},"labelPadding":1,"titleX":38,"titleY":274,"titleAngle":270,"titleAlign":"center","titleBaseline":"middle"}},
"color":{"field":"s","type":"nominal","scale":{"domain":["a","b"],"range":["#12a625","#c9c716"]},"legend":{"legendX":954,"legendY":282,"encode":{"symbols":{"update":{"fill":{"signal":"datum.value == 'a' ? '#10a820' : '#c8c810'"},"stroke":{"value":"transparent"}}}}}}}}
],
"resolve":{"scale":{"y":"independent","color":"independent"}}
}
